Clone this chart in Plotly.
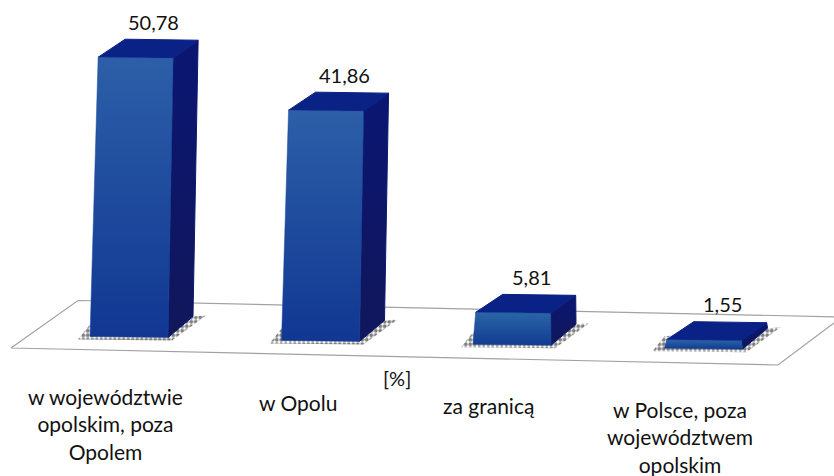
import plotly.graph_objects as go

categories = ["w województwie<br>opolskim, poza<br>Opolem", "w Opolu", "za granicą",
              "w Polsce, poza<br>województwem<br>opolskim"]
values = [50.78, 41.86, 5.81, 1.55]
value_labels = ["50,78", "41,86", "5,81", "1,55"]
unit_label = "[%]"

W, H = 834, 476
CAT_PX = 191.5      # pixels per category step
VAL_PX = 5.5        # pixels per percentage point
ORIGIN_X, ORIGIN_Y = 129.0, 336.5
TILT = 3.9          # baseline drop per category, px


def dx(px):
    return px / CAT_PX


def dy(px):
    return px / VAL_PX


def floor_pt(px, py):
    return (px - ORIGIN_X) / CAT_PX, (ORIGIN_Y - py) / VAL_PX


fig = go.Figure()

# floor plane
fx, fy = zip(*[floor_pt(*p) for p in [(11, 348), (778, 365), (842, 317), (78, 300.5), (11, 348)]])
fig.add_trace(go.Scatter(x=fx, y=fy, mode="lines", line=dict(color="#a2a2a2", width=1.2),
                         fill="toself", fillcolor="white", hoverinfo="skip", showlegend=False))


def poly(xs, ys, **kw):
    fig.add_trace(go.Scatter(x=xs, y=ys, mode="lines", fill="toself", hoverinfo="skip",
                             showlegend=False, **kw))


FRONT_GRAD = dict(type="vertical", colorscale=[[0, "#113792"], [1, "#2c5fa8"]])
SMALL_GRAD = dict(type="vertical", colorscale=[[0, "#123a92"], [1, "#2a66a6"]])
SIDE_GRAD = dict(type="vertical", colorscale=[[0, "#11175a"], [1, "#0a1672"]])

for i, v in enumerate(values):
    base = -dy(TILT * i)
    top = base + v
    lean = dx(0.022 * v * VAL_PX)
    half = dx(39)
    xl_b, xr_b = i - half, i + half
    xl_t, xr_t = xl_b + dx(2) + lean, xr_b - dx(1) + lean
    slope = dy(1)

    # halftone contact shadow
    poly([xl_b - dx(12), xr_b + dx(4), xr_b + dx(38), xl_b, xl_b - dx(12)],
         [base - dy(3), base - dy(4), base + dy(21), base + dy(12), base - dy(3)],
         line=dict(width=0),
         fillpattern=dict(shape=".", size=4.5, solidity=0.6, fgcolor="#000000", bgcolor="white"))

    # right side face
    poly([xr_t, xr_t + dx(25), xr_b + dx(25), xr_b, xr_t],
         [top - slope, top - slope + dy(18), base - slope + dy(21), base - slope, top - slope],
         line=dict(color="#0c1a70", width=1), fillgradient=SIDE_GRAD)
    # top face
    poly([xl_t, xl_t + dx(27), xr_t + dx(25), xr_t, xl_t],
         [top, top + dy(18), top - slope + dy(18), top - slope, top],
         line=dict(color="#0a2186", width=1), fillcolor="#0a2186")
    # front face
    poly([xl_b, xr_b, xr_t, xl_t, xl_b],
         [base, base - slope, top - slope, top, base],
         line=dict(color="#1a479c", width=0.5),
         fillgradient=FRONT_GRAD if v > 10 else SMALL_GRAD)

    # value label, above the rear edge
    fig.add_annotation(x=(xl_t + xr_t) / 2 + dx(18), y=top + dy(18), text=value_labels[i],
                       yshift=3.5, yanchor="bottom", showarrow=False,
                       font=dict(family="Lato", size=20, color="#111"))

# category labels
label_pos = [(105, 382), (298, 388), (488.5, 391), (680, 395)]
for text, (px, py) in zip(categories, label_pos):
    fig.add_annotation(x=px / W, y=1 - py / H, xref="paper", yref="paper", text=text,
                       xanchor="center", yanchor="top", align="center", showarrow=False,
                       font=dict(family="Lato", size=21, color="#111"))

fig.add_annotation(x=397 / W, y=1 - 378 / H, xref="paper", yref="paper", text=unit_label,
                   xanchor="center", yanchor="middle",
                   showarrow=False, font=dict(family="Lato", size=20, color="#111"))

fig.update_layout(
    width=W, height=H, margin=dict(l=0, r=0, t=0, b=0), showlegend=False,
    paper_bgcolor="white", plot_bgcolor="white",
    xaxis=dict(range=[-ORIGIN_X / CAT_PX, (W - ORIGIN_X) / CAT_PX], visible=False),
    yaxis=dict(range=[-(H - ORIGIN_Y) / VAL_PX, ORIGIN_Y / VAL_PX], visible=False),
)
fig.write_html("out.html", config={"displayModeBar": False},
               post_script="document.body.style.margin='0';document.body.style.overflow='hidden';")
